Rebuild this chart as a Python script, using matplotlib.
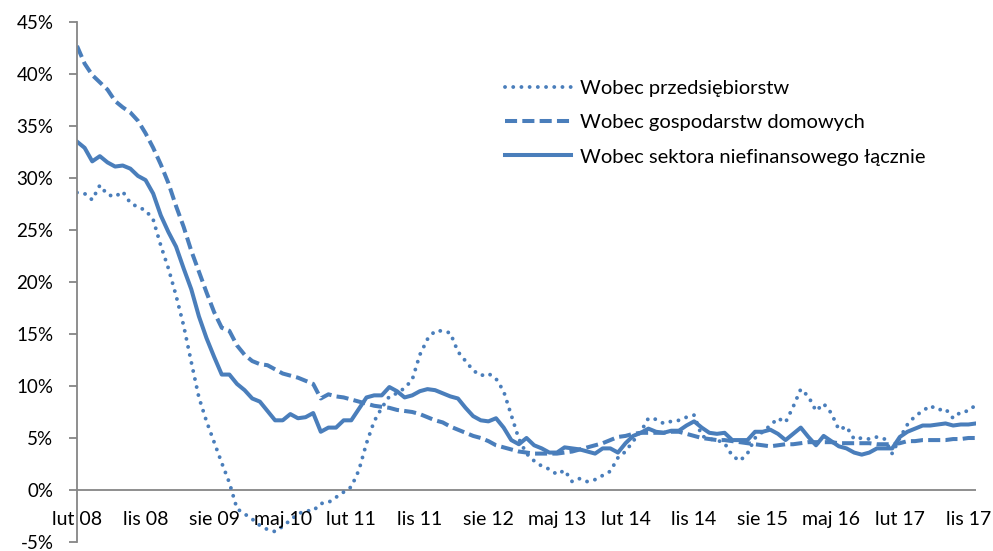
import numpy as np
import matplotlib
matplotlib.use("Agg")
import matplotlib.pyplot as plt

# monthly data, lut 08 .. gru 17 (values in %)
enterprises = [28.6, 28.5, 27.9, 29.3, 28.4, 28.2, 28.7, 27.6, 27.2, 26.9,
               26.0, 23.5, 21.3, 18.7, 15.8, 12.3, 8.9, 6.6, 4.6, 2.6,
               0.7, -1.8, -2.3, -2.8, -3.4, -3.8, -4.0, -3.5, -2.9, -2.3,
               -2.0, -2.0, -1.3, -1.2, -0.7, -0.2, 0.3, 1.9, 4.5, 6.6,
               7.9, 9.0, 9.3, 9.8, 10.6, 13.0, 14.5, 15.3, 15.3, 15.1,
               13.3, 12.4, 11.5, 11.0, 11.2, 10.7, 9.5, 7.2, 4.9, 3.5,
               2.8, 2.3, 2.0, 1.5, 1.9, 0.8, 1.1, 0.8, 1.0, 1.4,
               1.8, 3.1, 3.7, 4.7, 5.6, 6.9, 6.8, 6.4, 6.6, 6.7,
               7.0, 7.2, 5.2, 4.9, 4.8, 4.5, 3.3, 2.8, 3.5, 5.0,
               5.6, 6.2, 6.9, 6.5, 8.0, 9.7, 9.0, 7.6, 8.3, 7.4,
               5.8, 6.1, 4.9, 5.0, 4.9, 5.1, 4.9, 3.5, 5.0, 6.3,
               7.1, 7.6, 8.1, 7.7, 7.8, 6.9, 7.5, 7.6, 8.2]

households = [42.7, 41.0, 39.9, 39.2, 38.5, 37.4, 36.8, 36.3, 35.5, 34.3,
              32.9, 31.3, 29.5, 27.3, 25.3, 23.0, 21.0, 19.0, 17.1, 15.6,
              15.3, 13.9, 13.0, 12.4, 12.1, 12.0, 11.6, 11.2, 11.0, 10.8,
              10.5, 10.2, 8.8, 9.2, 9.0, 8.9, 8.7, 8.5, 8.3, 8.1,
              8.0, 7.9, 7.7, 7.6, 7.5, 7.3, 7.0, 6.7, 6.5, 6.1,
              5.8, 5.5, 5.2, 5.0, 4.7, 4.3, 4.1, 3.9, 3.7, 3.6,
              3.5, 3.5, 3.5, 3.5, 3.6, 3.7, 3.9, 4.1, 4.3, 4.5,
              4.8, 5.1, 5.2, 5.4, 5.5, 5.5, 5.5, 5.5, 5.6, 5.6,
              5.4, 5.2, 5.0, 4.9, 4.8, 4.8, 4.7, 4.6, 4.5, 4.4,
              4.3, 4.2, 4.3, 4.4, 4.4, 4.5, 4.6, 4.6, 4.6, 4.6,
              4.5, 4.5, 4.5, 4.5, 4.5, 4.4, 4.4, 4.4, 4.5, 4.7,
              4.7, 4.8, 4.8, 4.8, 4.8, 4.9, 4.9, 5.0, 5.0]

total = [33.5, 32.9, 31.6, 32.1, 31.5, 31.1, 31.2, 30.9, 30.2, 29.8,
         28.5, 26.4, 24.8, 23.4, 21.3, 19.3, 16.7, 14.6, 12.8, 11.1,
         11.1, 10.2, 9.6, 8.8, 8.5, 7.6, 6.7, 6.7, 7.3, 6.9,
         7.0, 7.4, 5.6, 6.0, 6.0, 6.7, 6.7, 7.8, 8.9, 9.1,
         9.1, 9.9, 9.5, 8.9, 9.1, 9.5, 9.7, 9.6, 9.3, 9.0,
         8.8, 7.9, 7.1, 6.7, 6.6, 6.9, 6.0, 4.8, 4.4, 5.0,
         4.3, 4.0, 3.6, 3.6, 4.1, 4.0, 3.9, 3.7, 3.5, 4.0,
         4.0, 3.6, 4.5, 5.2, 5.5, 5.9, 5.6, 5.5, 5.7, 5.7,
         6.2, 6.6, 6.0, 5.5, 5.4, 5.5, 4.8, 4.8, 4.8, 5.6,
         5.6, 5.8, 5.4, 4.8, 5.4, 6.0, 5.1, 4.3, 5.2, 4.7,
         4.2, 4.0, 3.6, 3.4, 3.6, 4.0, 4.0, 4.0, 5.1, 5.6,
         5.9, 6.2, 6.2, 6.3, 6.4, 6.2, 6.3, 6.3, 6.4]

tick_labels = ["lut 08", "lis 08", "sie 09", "maj 10", "lut 11", "lis 11", "sie 12",
               "maj 13", "lut 14", "lis 14", "sie 15", "maj 16", "lut 17", "lis 17"]
series_names = ["Wobec przedsiębiorstw", "Wobec gospodarstw domowych",
                "Wobec sektora niefinansowego łącznie"]

plt.rcParams['font.family'] = ['Lato', 'DejaVu Sans']
blue = '#4A7EBB'
gray = '#868686'

fig = plt.figure(figsize=(9.93, 5.51), dpi=100)
ax = fig.add_axes([77 / 993, 1 - 542 / 551, 899 / 993, 520 / 551])

x = np.arange(len(total))
ax.plot(x, enterprises, color=blue, lw=2.8, linestyle=(0, (0.01, 2.1)),
        dash_capstyle='round', label=series_names[0])
ax.plot(x, households, color=blue, lw=2.9, linestyle=(0, (3.0, 1.3)),
        dash_capstyle='butt', label=series_names[1])
ax.plot(x, total, color=blue, lw=2.9, label=series_names[2])

ax.set_xlim(0, len(total) - 1)
ax.set_ylim(-5, 45)
ax.axhline(0, color=gray, lw=1.3, zorder=0)

for s in ['top', 'right', 'bottom']:
    ax.spines[s].set_visible(False)
ax.spines['left'].set_color(gray)
ax.spines['left'].set_linewidth(1.3)

yt = np.arange(-5, 46, 5)
ax.set_yticks(yt)
ax.set_yticklabels([f"{v}%" for v in yt], fontsize=13.5)
ax.tick_params(axis='y', length=6, width=1.3, color=gray, pad=11)
ax.set_xticks([])
for i, lab in enumerate(tick_labels):
    ax.text(i * 9, -2.8, lab, ha='center', va='center', fontsize=14)

leg = ax.legend(loc='upper left', bbox_to_anchor=(505 / 993, 1 - 80 / 551),
                bbox_transform=fig.transFigure, frameon=False, fontsize=14.5,
                handlelength=3.3, handletextpad=0.4, labelspacing=0.85,
                borderaxespad=0, borderpad=0)

fig.savefig("out.png", dpi=100)
